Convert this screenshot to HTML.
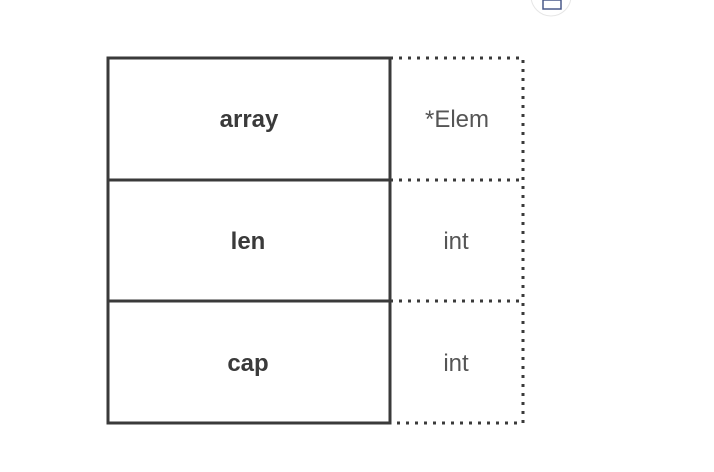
<!DOCTYPE html>
<html><head><meta charset="utf-8"><style>
html,body{margin:0;padding:0;background:#fff;width:714px;height:472px;overflow:hidden}
</style></head><body>
<svg width="714" height="472" xmlns="http://www.w3.org/2000/svg" font-family="Liberation Sans, DejaVu Sans, sans-serif">
<circle cx="551" cy="-4" r="20" fill="#fff" stroke="#e6e6e6"/>
<rect x="543" y="0" width="18" height="9" fill="none" stroke="#4a5a8a" stroke-width="1.5"/>
<g fill="none" stroke="#3a3a3a" stroke-width="3" stroke-dasharray="3 6">
<rect x="390" y="58" width="133" height="365"/>
<line x1="390" y1="180" x2="523" y2="180"/>
<line x1="390" y1="301" x2="523" y2="301"/>
</g>
<g fill="none" stroke="#3a3a3a" stroke-width="3">
<rect x="108" y="58" width="282" height="365"/>
<line x1="108" y1="180" x2="390" y2="180"/>
<line x1="108" y1="301" x2="390" y2="301"/>
</g>
<g font-size="24" font-weight="bold" fill="#3a3a3a" text-anchor="middle">
<text x="249" y="127">array</text>
<text x="248" y="249">len</text>
<text x="248" y="371">cap</text>
</g>
<g font-size="24" fill="#555" text-anchor="middle">
<text x="457" y="127">*Elem</text>
<text x="456" y="249">int</text>
<text x="456" y="371">int</text>
</g>
</svg>
</body></html>
